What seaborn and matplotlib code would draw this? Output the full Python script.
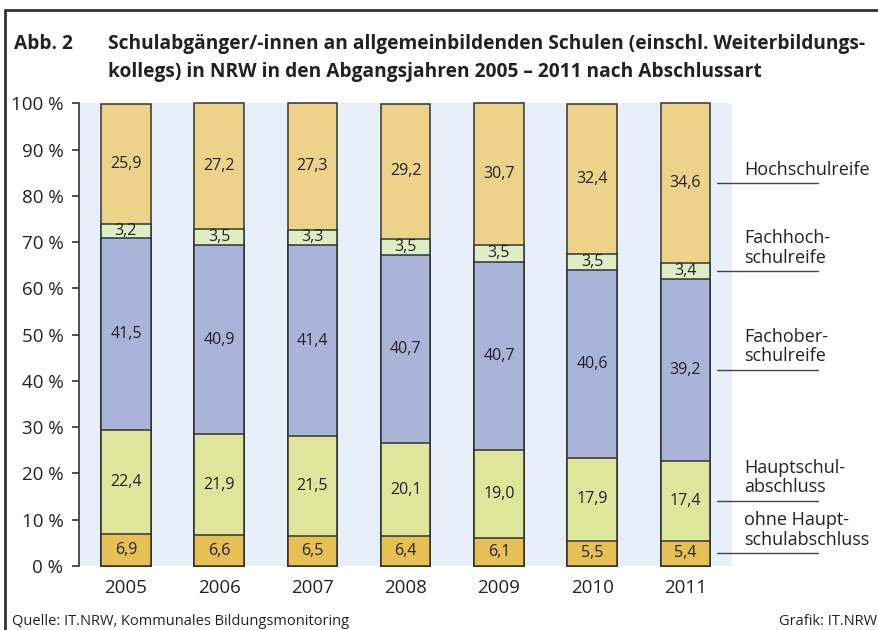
import numpy as np
import pandas as pd
import matplotlib
matplotlib.use('Agg')
import matplotlib.pyplot as plt
import seaborn as sns

# data (percent per school-leaving year)
years = ['2005', '2006', '2007', '2008', '2009', '2010', '2011']
ohne_hs = [6.9, 6.6, 6.5, 6.4, 6.1, 5.5, 5.4]
hauptschul = [22.4, 21.9, 21.5, 20.1, 19.0, 17.9, 17.4]
fachober = [41.5, 40.9, 41.4, 40.7, 40.7, 40.6, 39.2]
fachhoch = [3.2, 3.5, 3.3, 3.5, 3.5, 3.5, 3.4]
hochschul = [25.9, 27.2, 27.3, 29.2, 30.7, 32.4, 34.6]

series_names = ['ohne Haupt-\nschulabschluss', 'Hauptschul-\nabschluss',
                'Fachober-\nschulreife', 'Fachhoch-\nschulreife', 'Hochschulreife']
colours = ['#E6C052', '#DDE69B', '#AAB3D8', '#DDEEC6', '#EDD28A']

df = pd.DataFrame({'year': years, 'ohne': ohne_hs, 'haupt': hauptschul,
                   'fachober': fachober, 'fachhoch': fachhoch, 'hoch': hochschul})
cols = ['ohne', 'haupt', 'fachober', 'fachhoch', 'hoch']
cum = df[cols].cumsum(axis=1)

sns.set_style('white')
plt.rcParams['font.family'] = ['Open Sans', 'DejaVu Sans']

fig = plt.figure(figsize=(8.79, 6.3), dpi=100)
ax = fig.add_axes([0.0902, 0.1016, 0.7426, 0.7344])
ax.set_facecolor('#E7EFF9')

# stacked bars: draw cumulative heights from the top down
for c, col in reversed(list(zip(colours, cols))):
    sns.barplot(x=df['year'], y=cum[col], color=c, width=0.53,
                edgecolor='#333333', linewidth=1.1, saturation=1, ax=ax, zorder=2)
for p in ax.patches:
    p.set_clip_on(False)

# value labels
for i in range(len(years)):
    base = 0
    for col in cols:
        v = df[col][i]
        ax.text(i, base + v / 2, f'{v:.1f}'.replace('.', ','), ha='center', va='center',
                fontsize=11.5, color='#222222', zorder=3)
        base += v

# series labels on the right, pointing at the last bar
last = len(years) - 1
base = 0
for name, col in zip(series_names, cols):
    v = df[col][last]
    ym = base + v / 2
    ax.plot([last + 0.34, last + 1.42], [ym, ym], color='#444444', lw=1,
            clip_on=False, zorder=4)
    ax.text(last + 0.63, ym + 1.0, name, ha='left', va='bottom', fontsize=13,
            color='#222222', linespacing=1.1, clip_on=False)
    base += v

ax.set_xlim(-0.5, 6.5)
ax.set_ylim(0, 100)
ax.set_yticks(np.arange(0, 101, 10))
ax.set_yticklabels([f'{t} %' for t in range(0, 101, 10)])
ax.set_xlabel('')
ax.set_ylabel('')
for s in ['top', 'right', 'bottom']:
    ax.spines[s].set_visible(False)
ax.spines['left'].set_color('#333333')
ax.spines['left'].set_linewidth(1.2)
ax.tick_params(axis='y', left=True, length=5, width=1.2, color='#333333',
               labelsize=13.5, labelcolor='#222222', pad=6.5)
ax.tick_params(axis='x', bottom=False, labelsize=13.5, labelcolor='#222222', pad=6)

# frame lines (top and left)
fig.add_artist(plt.Line2D([0.006, 1.0], [0.984, 0.984], color='#333333', lw=2))
fig.add_artist(plt.Line2D([0.006, 0.006], [0.0, 0.984], color='#333333', lw=2))

# titles
fig.text(0.016, 0.922, 'Abb. 2', fontsize=13.8, fontweight='bold', color='#222222')
fig.text(0.123, 0.922, 'Schulabgänger/-innen an allgemeinbildenden Schulen (einschl. Weiterbildungs-',
         fontsize=13.8, fontweight='bold', color='#222222')
fig.text(0.123, 0.878, 'kollegs) in NRW in den Abgangsjahren 2005 – 2011 nach Abschlussart',
         fontsize=13.8, fontweight='bold', color='#222222')

fig.text(0.014, 0.008, 'Quelle: IT.NRW, Kommunales Bildungsmonitoring', fontsize=10.5, color='#222222')
fig.text(0.998, 0.008, 'Grafik: IT.NRW', fontsize=10.5, color='#222222', ha='right')

fig.savefig('out.png', dpi=100)
